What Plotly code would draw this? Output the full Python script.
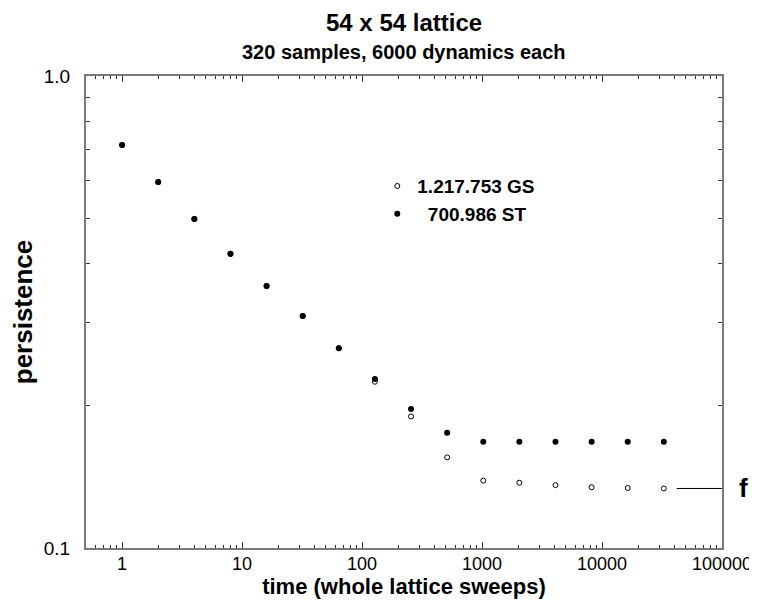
import numpy as np
import plotly.graph_objects as go

# data
time = [1, 2, 4, 8, 16, 32, 64, 128, 256, 512, 1024, 2048, 4096, 8192, 16384, 32768]
gs = [0.714, 0.596, 0.498, 0.420, 0.359, 0.310, 0.265, 0.225, 0.190, 0.1556,
      0.1389, 0.1375, 0.1359, 0.1345, 0.1340, 0.1337]
st = [0.714, 0.596, 0.498, 0.420, 0.359, 0.310, 0.265, 0.228, 0.197, 0.1755,
      0.168, 0.168, 0.168, 0.168, 0.168, 0.168]
gs_name = "1.217.753 GS"
st_name = "700.986 ST"
f_value = gs[-1]
f_line_x = [42000, 100000]

x_ticks = [1, 10, 100, 1000, 10000, 100000]
x_ticktext = ["1", "10", "100", "1000", "10000", "100000"]
y_ticks = [0.1, 1.0]
y_ticktext = ["0.1", "1.0"]

FONT = "Liberation Sans, Arial, sans-serif"
AX = "#7a7a7a"

fig = go.Figure()
fig.add_trace(go.Scatter(
    x=time, y=gs, mode="markers", name=gs_name,
    marker=dict(symbol="circle-open", size=5, color="black", line=dict(width=1, color="black")),
))
fig.add_trace(go.Scatter(
    x=time, y=st, mode="markers", name="\u200b\u00a0\u00a0" + st_name,
    marker=dict(symbol="circle", size=6, color="black"),
))
fig.add_trace(go.Scatter(
    x=f_line_x, y=[f_value, f_value], mode="lines", showlegend=False,
    line=dict(color="black", width=1), cliponaxis=False, hoverinfo="skip",
))

minor_x = [m * 10 ** d for d in range(-1, 5) for m in range(2, 10)]
minor_x = [v for v in minor_x if 0.5 <= v <= 100000]
minor_y = [m / 10 for m in range(2, 10)]

fig.update_layout(
    width=757, height=592,
    margin=dict(l=78, r=43, t=68, b=52, autoexpand=False),
    paper_bgcolor="white", plot_bgcolor="white",
    font=dict(family=FONT, color="black"),
    showlegend=True,
    legend=dict(
        x=0.458, y=0.807, xanchor="left", yanchor="top",
        bgcolor="rgba(0,0,0,0)", font=dict(family=FONT, size=19, color="black", weight="bold"),
        itemwidth=30, tracegroupgap=0,
    ),
    xaxis=dict(
        type="log", range=[np.log10(0.5), 5.0002], automargin=False,
        tickmode="array", tickvals=x_ticks, ticktext=x_ticktext,
        ticks="inside", ticklen=6, tickwidth=1, tickcolor="#333",
        showline=True, linecolor=AX, linewidth=2, mirror="ticks",
        showgrid=False, zeroline=False, ticklabelstandoff=-2,
        tickfont=dict(size=18, family=FONT),
        minor=dict(tickmode="array", tickvals=minor_x, ticks="inside", ticklen=3, tickcolor="#333", showgrid=False),
        title=dict(text="time (whole lattice sweeps)", font=dict(size=22, family=FONT, weight="bold"), standoff=2),
    ),
    yaxis=dict(
        type="log", range=[-1, 0], automargin=False,
        tickmode="array", tickvals=y_ticks, ticktext=y_ticktext,
        ticks="inside", ticklen=6, tickwidth=1, tickcolor="#333",
        showline=True, linecolor=AX, linewidth=2, mirror="ticks",
        showgrid=False, zeroline=False, ticklabelstandoff=10,
        tickfont=dict(size=19, family=FONT),
        minor=dict(tickmode="array", tickvals=minor_y, ticks="inside", ticklen=4, tickcolor="#333", showgrid=False),
        title=dict(text="persistence", font=dict(size=26, family=FONT, weight="bold"), standoff=12),
    ),
    annotations=[
        dict(text="54 x 54 lattice", xref="paper", yref="paper", x=0.5, y=1.114,
             xanchor="center", yanchor="middle", showarrow=False,
             font=dict(size=24, family=FONT, weight="bold")),
        dict(text="320 samples, 6000 dynamics each", xref="paper", yref="paper", x=0.5, y=1.0508,
             xanchor="center", yanchor="middle", showarrow=False,
             font=dict(size=20, family=FONT, weight="bold")),
        dict(text="f", xref="paper", yref="y", x=1.0, y=np.log10(f_value), xshift=21,
             xanchor="center", yanchor="middle", showarrow=False,
             font=dict(size=26, family=FONT, weight="bold")),
    ],
)

fig.write_html("out.html")
